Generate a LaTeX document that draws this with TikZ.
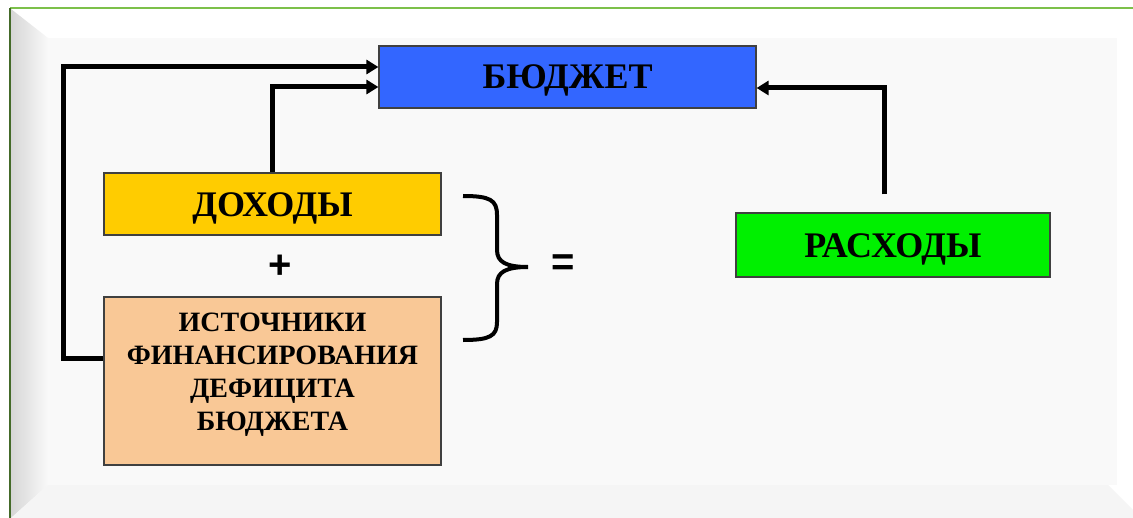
\documentclass[tikz,border=0pt]{standalone}
\usepackage{fontspec}
\setmainfont{Liberation Serif}
\newfontfamily\signfont{Liberation Sans}
\usetikzlibrary{arrows.meta}

\definecolor{budgetblue}{HTML}{3366FF}
\definecolor{incomeyellow}{HTML}{FFCC00}
\definecolor{sourcepeach}{HTML}{F9C896}
\definecolor{costgreen}{HTML}{00F000}
\definecolor{panelgray}{HTML}{F9F9F9}
\definecolor{framegreen}{HTML}{7CC04A}

\tikzset{
  box/.style={draw=black!75, line width=0.6pt, inner sep=0pt, text height=12pt, text depth=0pt, font=\bfseries\fontsize{18}{20}\selectfont},
  link/.style={line width=2.5pt, -{Triangle[length=6pt,width=7pt]}},
  sign/.style={font=\signfont\bfseries\fontsize{20}{22}\selectfont},
}

\begin{document}
\begin{tikzpicture}[x=0.5pt,y=-0.5pt]
\useasboundingbox (0,0) rectangle (1133,518);
\fill[white] (0,0) rectangle (1133,518);
\shade[left color=black!16, right color=panelgray] (11,9) -- (48,38) -- (48,485) -- (11,518) -- cycle;
\fill[black!4] (11,518) -- (48,485) -- (1108,485) -- (1133,510) -- (1133,518) -- cycle;
\fill[panelgray] (48,38) rectangle (1117,485);
\draw[framegreen, line width=1pt] (10,8) -- (1133,8);
\draw[black!45!framegreen, line width=1pt] (10,8) -- (10,518);

\node[box, fill=budgetblue, minimum width=188.5pt, minimum height=31pt] (B) at (567.5,77) {БЮДЖЕТ};
\node[box, fill=incomeyellow, minimum width=168.5pt, minimum height=31pt] (D) at (272.5,204) {ДОХОДЫ};
\node[box, fill=sourcepeach, minimum width=168.5pt, minimum height=84pt] (S) at (272.5,381) {};
\node[font=\bfseries\fontsize{14}{16.5}\selectfont, align=center] (St) at (272.5,375) {ИСТОЧНИКИ\\ФИНАНСИРОВАНИЯ\\ДЕФИЦИТА\\БЮДЖЕТА};
\node[box, fill=costgreen, minimum width=157pt, minimum height=32pt] (R) at (893,245) {РАСХОДЫ};
\node[sign] (plus) at (280,267) {+};
\node[sign] (eq) at (563,265) {=};

\coordinate (Rtop) at ([xshift=-4.5pt,yshift=9pt]R.north);
\draw[link] ([yshift=11.5pt]S.west) -- ++(-20pt,0) |- ([yshift=5pt]B.west);
\draw[link] (D.north) |- ([yshift=-5pt]B.west);
\draw[link] (Rtop) |- ([yshift=-5.5pt]B.east);

\draw[line width=2pt] (463,196) .. controls (490,196) and (497,200) .. (497,215) -- (497,250)
  .. controls (497,262) and (506,267) .. (528,267) .. controls (506,267) and (497,272) .. (497,284)
  -- (497,322) .. controls (497,336) and (490,340) .. (463,340);
\end{tikzpicture}
\end{document}
